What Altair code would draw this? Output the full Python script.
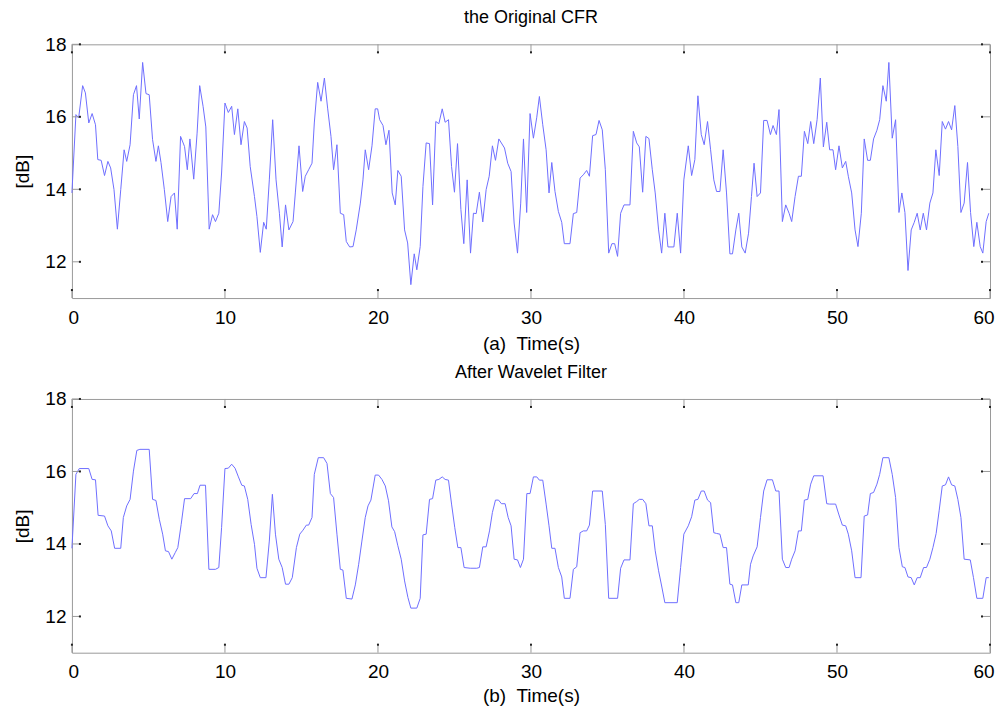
import altair as alt
import pandas as pd

# ---- data ----
time_orig = [0, 0.26, 0.44, 0.7, 0.88, 1.1, 1.32, 1.54, 1.69, 1.91, 2.13, 2.35, 2.53, 2.75, 2.97, 3.19, 3.41, 3.58, 3.8, 4.02,
             4.22, 4.4, 4.62, 4.84, 5.05, 5.27, 5.49, 5.65, 5.82, 6.04, 6.26, 6.48, 6.7, 6.88, 7.1, 7.36, 7.54, 7.71, 7.96, 8.18,
             8.35, 8.57, 8.75, 8.97, 9.19, 9.38, 9.6, 9.78, 10.0, 10.22, 10.44, 10.62, 10.84, 11.05, 11.27, 11.45, 11.65, 11.93, 12.09, 12.31,
             12.53, 12.7, 12.9, 13.12, 13.34, 13.56, 13.74, 13.96, 14.18, 14.45, 14.6, 14.84, 15.08, 15.25, 15.47, 15.69, 15.84, 16.06, 16.28, 16.5,
             16.71, 16.93, 17.1, 17.32, 17.54, 17.76, 17.93, 18.15, 18.37, 18.58, 18.85, 19.02, 19.17, 19.39, 19.61, 19.82, 19.98, 20.11, 20.33, 20.52,
             20.72, 20.93, 21.13, 21.3, 21.52, 21.74, 21.94, 22.15, 22.37, 22.54, 22.76, 22.94, 23.15, 23.37, 23.57, 23.78, 23.98, 24.2, 24.39, 24.61,
             24.81, 25.0, 25.2, 25.42, 25.61, 25.83, 26.05, 26.24, 26.42, 26.63, 26.85, 27.07, 27.27, 27.48, 27.68, 27.9, 28.27, 28.48, 28.7, 28.9,
             29.12, 29.33, 29.51, 29.72, 29.94, 30.16, 30.38, 30.55, 30.77, 30.99, 31.18, 31.36, 31.57, 31.79, 32.01, 32.18, 32.55, 32.77, 32.99, 33.21,
             33.42, 33.64, 33.82, 34.03, 34.25, 34.45, 34.66, 34.86, 35.08, 35.29, 35.47, 35.66, 35.86, 36.08, 36.47, 36.69, 36.91, 37.08, 37.3, 37.51,
             37.71, 37.93, 38.12, 38.34, 38.54, 38.75, 38.95, 39.34, 39.56, 39.78, 39.99, 40.28, 40.5, 40.71, 40.91, 41.13, 41.32, 41.54, 41.74, 41.95,
             42.13, 42.35, 42.56, 42.78, 43.0, 43.17, 43.39, 43.58, 43.78, 44.0, 44.22, 44.41, 44.58, 44.78, 45.0, 45.21, 45.43, 45.65, 45.82, 46.04,
             46.21, 46.43, 46.65, 46.87, 47.04, 47.26, 47.48, 47.67, 47.87, 48.09, 48.28, 48.48, 48.7, 48.91, 49.11, 49.33, 49.52, 49.74, 49.91, 50.13,
             50.35, 50.57, 50.74, 50.96, 51.18, 51.37, 51.59, 51.78, 52.0, 52.18, 52.39, 52.61, 52.79, 53.0, 53.22, 53.39, 53.61, 53.83, 54.05, 54.24,
             54.44, 54.64, 54.85, 55.05, 55.24, 55.44, 55.64, 55.85, 56.07, 56.27, 56.46, 56.68, 56.88, 57.09, 57.29, 57.49, 57.7, 57.9, 58.1, 58.31,
             58.53, 58.73, 58.94, 59.14, 59.36, 59.53, 59.75, 59.92]
cfr_orig = [13.9, 16.06, 15.97, 16.86, 16.66, 15.83, 16.09, 15.78, 14.82, 14.8, 14.38, 14.77, 14.59, 13.99, 12.9, 13.99, 15.09, 14.77, 15.23, 16.61,
            16.86, 15.94, 17.5, 16.64, 16.61, 15.37, 14.77, 15.2, 14.74, 13.99, 13.11, 13.8, 13.9, 12.9, 15.46, 15.18, 14.54, 15.39, 14.28, 15.55,
            16.86, 16.29, 15.72, 12.9, 13.3, 13.11, 13.34, 14.45, 16.38, 16.12, 16.29, 15.51, 16.22, 15.23, 15.87, 15.69, 14.63, 13.8, 13.25, 12.26,
            13.09, 12.9, 14.26, 15.92, 14.26, 13.34, 12.41, 13.57, 12.88, 13.11, 13.9, 15.2, 13.94, 14.36, 14.54, 14.72, 15.83, 16.95, 16.43, 17.07,
            16.24, 15.46, 14.54, 15.23, 13.34, 13.3, 12.56, 12.41, 12.42, 12.88, 13.62, 14.26, 15.09, 14.54, 15.2, 16.22, 16.22, 15.92, 15.76, 15.23,
            15.63, 13.9, 13.57, 14.52, 14.36, 12.88, 12.52, 11.37, 12.22, 11.78, 12.42, 14.08, 15.28, 15.26, 13.57, 15.87, 15.81, 16.22, 15.85, 15.92,
            14.63, 13.92, 15.26, 13.44, 12.5, 14.26, 12.24, 13.34, 13.33, 13.92, 13.1, 13.99, 14.36, 15.2, 14.8, 15.39, 15.14, 14.72, 14.49, 13.07,
            12.24, 13.62, 15.39, 13.36, 16.09, 15.41, 15.99, 16.56, 15.78, 15.09, 13.9, 14.74, 13.94, 13.39, 13.09, 12.5, 12.5, 13.33, 13.36, 14.31,
            14.4, 14.52, 14.36, 15.48, 15.51, 15.9, 15.64, 14.54, 12.24, 12.5, 12.5, 12.15, 13.34, 13.57, 13.57, 15.6, 15.28, 15.17, 13.92, 15.46,
            15.4, 14.54, 13.9, 12.88, 12.24, 13.34, 12.41, 12.41, 13.34, 12.24, 14.26, 15.2, 14.38, 14.82, 16.58, 15.51, 15.23, 15.87, 15.09, 14.26,
            13.94, 13.94, 15.09, 13.9, 12.22, 12.22, 12.88, 13.34, 12.41, 12.24, 12.79, 13.8, 14.72, 13.8, 13.9, 15.9, 15.9, 15.51, 15.76, 15.51,
            16.2, 13.11, 13.57, 13.34, 13.11, 13.8, 14.36, 14.36, 15.6, 15.26, 15.87, 15.26, 15.92, 17.07, 15.17, 15.85, 15.09, 15.09, 14.54, 15.2,
            14.59, 14.77, 14.36, 13.9, 12.88, 12.42, 13.34, 15.39, 14.8, 14.8, 15.39, 15.63, 15.92, 16.86, 16.43, 17.5, 15.41, 15.92, 13.36, 13.9,
            13.36, 11.76, 12.88, 13.09, 13.34, 12.88, 13.34, 12.88, 13.62, 13.9, 15.09, 14.38, 15.87, 15.66, 15.87, 15.64, 16.31, 15.18, 13.36, 13.62,
            14.74, 13.36, 12.42, 13.09, 12.42, 12.24, 13.11, 13.34]

time_filt = [0, 0.26, 0.48, 1.1, 1.32, 1.54, 1.71, 2.13, 2.35, 2.57, 2.79, 3.19, 3.36, 3.58, 3.8, 4.02, 4.24, 4.44, 5.05, 5.27,
             5.49, 5.71, 5.93, 6.11, 6.31, 6.53, 6.75, 6.92, 7.14, 7.36, 7.76, 7.98, 8.2, 8.37, 8.73, 8.95, 9.38, 9.6, 9.78, 10.0,
             10.22, 10.44, 10.66, 10.88, 11.1, 11.27, 11.49, 11.71, 11.93, 12.09, 12.31, 12.68, 12.9, 13.1, 13.3, 13.52, 13.74, 13.96, 14.18, 14.4,
             14.67, 14.89, 15.1, 15.32, 15.47, 15.69, 15.84, 16.1, 16.45, 16.67, 16.89, 17.1, 17.32, 17.54, 17.71, 17.93, 18.3, 18.52, 18.74, 18.95,
             19.17, 19.35, 19.54, 19.82, 20.04, 20.26, 20.48, 20.69, 20.91, 21.09, 21.3, 21.52, 21.74, 21.96, 22.15, 22.54, 22.76, 22.94, 23.15, 23.37,
             23.57, 23.78, 23.98, 24.2, 24.39, 24.61, 24.81, 25.02, 25.22, 25.42, 25.63, 26.03, 26.46, 26.63, 26.85, 27.07, 27.29, 27.48, 27.68, 27.88,
             28.07, 28.31, 28.51, 28.7, 28.9, 29.12, 29.31, 29.51, 29.73, 29.94, 30.16, 30.38, 30.55, 30.77, 30.99, 31.18, 31.36, 31.57, 31.79, 32.01,
             32.18, 32.55, 32.77, 32.99, 33.21, 33.42, 33.64, 33.82, 34.03, 34.66, 34.86, 35.08, 35.66, 35.86, 36.08, 36.47, 36.69, 36.91, 37.08, 37.3,
             37.51, 37.71, 37.93, 38.12, 38.34, 38.54, 38.75, 39.56, 39.78, 39.99, 40.28, 40.5, 40.71, 40.91, 41.13, 41.32, 41.54, 41.74, 41.95, 42.13,
             42.35, 42.56, 42.78, 43.0, 43.17, 43.39, 43.58, 43.78, 44.2, 44.35, 44.52, 44.78, 45.0, 45.21, 45.43, 45.78, 46.0, 46.21, 46.43, 46.65,
             46.87, 47.04, 47.26, 47.48, 47.67, 47.87, 48.09, 48.28, 48.48, 49.09, 49.33, 49.52, 49.91, 50.13, 50.35, 50.57, 50.74, 50.96, 51.18, 51.57,
             51.78, 52.0, 52.18, 52.39, 52.61, 52.79, 53.0, 53.39, 53.61, 53.83, 54.05, 54.27, 54.44, 54.64, 54.85, 55.05, 55.24, 55.44, 55.66, 55.85,
             56.07, 56.27, 56.48, 56.68, 56.88, 57.09, 57.29, 57.49, 57.7, 57.9, 58.1, 58.31, 58.71, 58.92, 59.14, 59.53, 59.75, 59.92]
cfr_filt = [13.88, 15.92, 16.08, 16.08, 15.78, 15.77, 14.79, 14.77, 14.5, 14.36, 13.88, 13.88, 14.73, 15.05, 15.23, 16.01, 16.58, 16.61, 16.61, 15.23,
            15.2, 14.68, 14.27, 13.81, 13.79, 13.58, 13.76, 13.9, 14.54, 15.25, 15.25, 15.39, 15.39, 15.62, 15.62, 13.3, 13.3, 13.35, 14.45, 16.08,
            16.09, 16.2, 16.09, 15.85, 15.62, 15.6, 15.23, 14.54, 13.99, 13.33, 13.07, 13.07, 14.08, 15.37, 14.27, 13.58, 13.35, 12.89, 12.89, 13.07,
            13.9, 14.27, 14.38, 14.52, 14.52, 14.73, 15.92, 16.38, 16.38, 16.22, 15.39, 15.28, 14.27, 13.3, 13.28, 12.5, 12.48, 12.87, 13.44, 14.08,
            14.73, 15.05, 15.21, 15.9, 15.9, 15.78, 15.6, 15.19, 14.47, 14.34, 13.95, 13.58, 12.98, 12.52, 12.23, 12.23, 12.5, 14.25, 14.27, 15.23,
            15.25, 15.76, 15.78, 15.85, 15.78, 15.76, 15.1, 14.45, 13.9, 13.9, 13.35, 13.33, 13.33, 13.35, 13.92, 13.92, 14.36, 14.87, 15.21, 15.21,
            15.11, 15.11, 14.73, 14.5, 13.58, 13.56, 13.35, 13.58, 15.39, 15.39, 15.85, 15.85, 15.76, 15.76, 15.1, 14.5, 13.88, 13.88, 13.35, 13.09,
            12.5, 12.5, 13.3, 13.37, 14.31, 14.36, 14.36, 14.52, 15.46, 15.46, 14.54, 12.5, 12.5, 13.33, 13.56, 13.56, 15.11, 15.17, 15.23, 15.23,
            15.11, 14.5, 14.5, 13.81, 13.26, 12.84, 12.38, 12.38, 13.35, 14.27, 14.5, 14.75, 15.21, 15.23, 15.46, 15.46, 15.21, 15.14, 14.31, 14.29,
            14.27, 13.9, 13.9, 12.89, 12.87, 12.38, 12.38, 12.87, 12.87, 13.44, 13.67, 13.92, 14.73, 15.46, 15.77, 15.77, 15.46, 15.46, 13.58, 13.35,
            13.35, 13.58, 13.81, 14.36, 14.36, 15.21, 15.23, 15.65, 15.88, 15.88, 15.11, 15.1, 15.1, 14.8, 14.52, 14.5, 14.27, 13.81, 13.07, 13.07,
            14.77, 14.8, 15.39, 15.42, 15.65, 15.92, 16.38, 16.38, 15.92, 15.28, 13.9, 13.37, 13.35, 13.09, 13.07, 12.87, 13.07, 13.07, 13.35, 13.35,
            13.58, 13.9, 14.29, 14.93, 15.6, 15.63, 15.85, 15.63, 15.6, 15.23, 14.73, 13.58, 13.56, 13.07, 12.5, 12.5, 13.07, 13.07]

x_ticks = [0, 10, 20, 30, 40, 50, 60]
y_ticks = [12, 14, 16, 18]
x_domain = [0, 60]
y_domain = [11, 18]
titles = ["the Original CFR", "After Wavelet Filter"]
x_titles = ["(a)\u00a0 Time(s)", "(b)\u00a0 Time(s)"]
y_title = "[dB]"

FONT = "Liberation Sans"
W, H = 919, 254
TL = 9  # inward tick length in px


def tick_layers(xs, ys):
    xt = pd.DataFrame({"xt": x_ticks})
    yt = pd.DataFrame({"yt": y_ticks})
    layers = []
    # gray tick body, then a short dark tip at the inner end
    for color, sw, a, b in [("#9a9a9a", 1, 0, TL), ("#222222", 2, TL - 2, TL)]:
        layers.append(alt.Chart(xt).mark_rule(color=color, strokeWidth=sw).encode(
            x=alt.X("xt:Q", scale=xs), y=alt.value(H - a), y2=alt.value(H - b)))
        layers.append(alt.Chart(xt).mark_rule(color=color, strokeWidth=sw).encode(
            x=alt.X("xt:Q", scale=xs), y=alt.value(a), y2=alt.value(b)))
        layers.append(alt.Chart(yt).mark_rule(color=color, strokeWidth=sw).encode(
            y=alt.Y("yt:Q", scale=ys), x=alt.value(a), x2=alt.value(b)))
        layers.append(alt.Chart(yt).mark_rule(color=color, strokeWidth=sw).encode(
            y=alt.Y("yt:Q", scale=ys), x=alt.value(W - a), x2=alt.value(W - b)))
    return layers


def panel(t, v, title, xtitle, xtitle_pad):
    df = pd.DataFrame({"t": t, "v": v})
    xs = alt.Scale(domain=x_domain, nice=False, zero=False)
    ys = alt.Scale(domain=y_domain, nice=False, zero=False)
    line = alt.Chart(df).mark_line(color="#6e6eff", strokeWidth=1).encode(
        x=alt.X("t:Q", scale=xs, title=xtitle,
                axis=alt.Axis(values=x_ticks, format="d", ticks=False, domain=False, grid=False,
                              labelFlush=True, labelFlushOffset=4, labelPadding=10,
                              titlePadding=xtitle_pad)),
        y=alt.Y("v:Q", scale=ys, title=y_title,
                axis=alt.Axis(values=y_ticks, format="d", ticks=False, domain=False, grid=False,
                              labelFlush=False, labelPadding=6, titlePadding=12)),
    )
    return alt.layer(line, *tick_layers(xs, ys)).properties(
        width=W, height=H,
        title=alt.TitleParams(title, fontSize=18, fontWeight="normal", font=FONT, color="black", offset=8),
    )


top = panel(time_orig, cfr_orig, titles[0], x_titles[0], 7)
bottom = panel(time_filt, cfr_filt, titles[1], x_titles[1], 5)

chart = alt.vconcat(top, bottom, spacing=9).properties(
    padding={"top": 0, "left": 5, "right": 0, "bottom": 0}
).configure(
    font=FONT, background="white"
).configure_view(
    stroke="#9a9a9a", strokeWidth=1
).configure_axis(
    labelFont=FONT, labelFontSize=19, labelColor="black",
    titleFont=FONT, titleFontSize=19, titleColor="black", titleFontWeight="normal",
)

chart.save("out.html", embed_options={"renderer": "svg", "actions": False})
